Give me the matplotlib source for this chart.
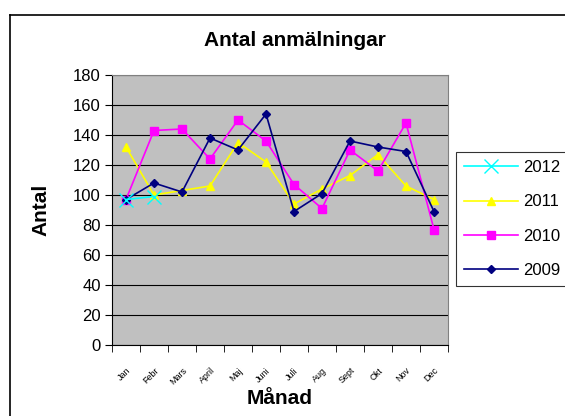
import numpy as np
import matplotlib
matplotlib.use('Agg')
import matplotlib.pyplot as plt
from matplotlib.lines import Line2D

months = ['Jan', 'Febr', 'Mars', 'April', 'Maj', 'Juni', 'Juli', 'Aug', 'Sept', 'Okt', 'Nov', 'Dec']
v2012 = [97, 99]
v2011 = [132, 100, 103, 106, 135, 122, 94, 104, 113, 127, 106, 97]
v2010 = [97, 143, 144, 124, 150, 136, 107, 91, 130, 116, 148, 77]
v2009 = [97, 108, 102, 138, 130, 154, 89, 101, 136, 132, 129, 89]

plt.rcParams['font.family'] = ['Liberation Sans', 'DejaVu Sans']

W, H = 565, 416
fig = plt.figure(figsize=(W / 100, H / 100), dpi=100)
ax = fig.add_axes([112 / W, 1 - 345 / H, 336 / W, 270 / H])
ax.set_facecolor('#C0C0C0')

x = np.arange(len(months))
l12, = ax.plot(x[:len(v2012)], v2012, color='#00FFFF', marker='x', markersize=10, lw=1.2, label='2012', zorder=5)
l11, = ax.plot(x, v2011, color='#FFFF00', marker='^', markersize=6, lw=1.2, label='2011')
l10, = ax.plot(x, v2010, color='#FF00FF', marker='s', markersize=6, lw=1.2, label='2010')
l09, = ax.plot(x, v2009, color='#000080', marker='D', markersize=4.5, lw=1.2, label='2009')

ax.set_xlim(-0.5, len(months) - 0.5)
ax.set_ylim(0, 180)
ax.set_yticks(range(0, 181, 20))
ax.yaxis.grid(True, color='black', lw=0.8)
ax.set_axisbelow(True)
ax.set_xticks(x)
ax.set_xticklabels(months, rotation=45, ha='right', rotation_mode='anchor', fontsize=6.5)
ax.set_xticks(np.arange(-0.5, len(months)), minor=True)
ax.tick_params(axis='x', which='major', length=0, pad=15)
ax.tick_params(axis='x', which='minor', length=5, direction='out')
ax.tick_params(axis='y', labelsize=12, length=5, pad=3)
for s in ['top', 'right']:
    ax.spines[s].set_color('#808080')

# title is centred on the whole chart area, not the plot area
fig.text(295 / W, 1 - 41 / H, 'Antal anmälningar', fontsize=15, fontweight='bold',
         ha='center', va='center')
ax.set_ylabel('Antal', fontsize=15, fontweight='bold', labelpad=16)
ax.set_xlabel('Månad', fontsize=15, fontweight='bold', labelpad=2)

leg = fig.legend(handles=[l12, l11, l10, l09], loc='upper left',
                 bbox_to_anchor=(456 / W, 1 - 152 / H), fontsize=12,
                 frameon=True, fancybox=False, edgecolor='black',
                 handlelength=3.2, borderaxespad=0, labelspacing=1.15,
                 handletextpad=0.3, borderpad=0.5)
leg.get_frame().set_linewidth(0.8)

# chart border (right and bottom edges fall outside the image)
fig.add_artist(Line2D([10 / W, 1], [1 - 15 / H, 1 - 15 / H], transform=fig.transFigure, color='black', lw=1.2))
fig.add_artist(Line2D([10 / W, 10 / W], [0, 1 - 15 / H], transform=fig.transFigure, color='black', lw=1.2))

fig.savefig('out.png', dpi=100, facecolor='white')
